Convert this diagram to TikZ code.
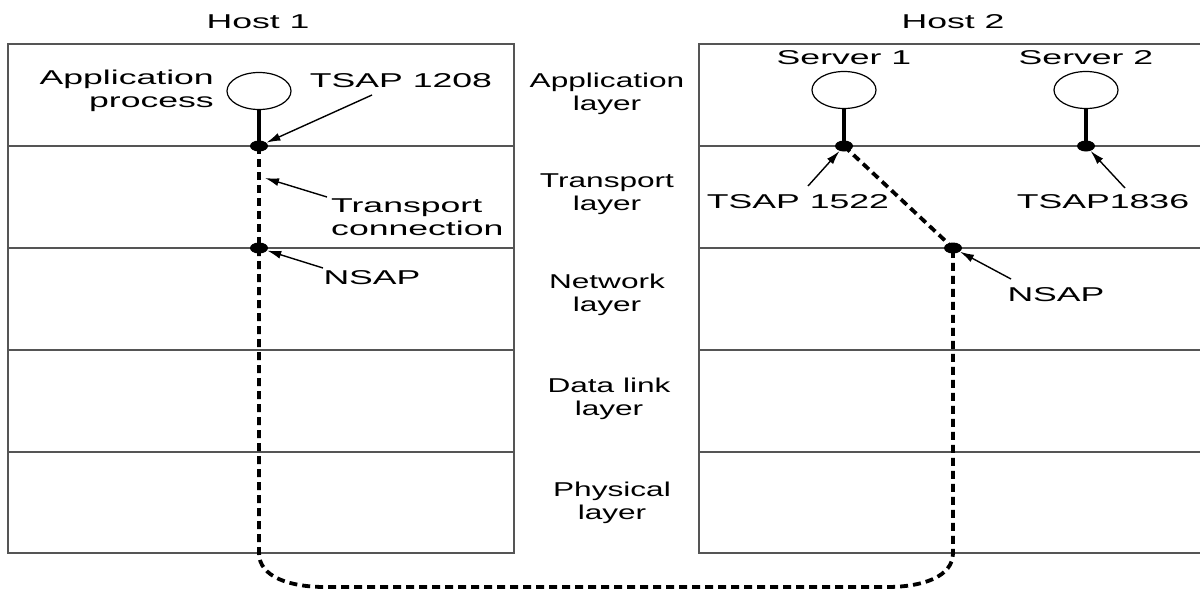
\documentclass[tikz,border=0pt]{standalone}
\usepackage{fontspec}
\setmainfont{Liberation Sans}[FakeStretch=1.78]
\newfontfamily\layerfont{Liberation Sans}[FakeStretch=1.58]
\usetikzlibrary{arrows.meta,shapes.geometric}
\definecolor{boxline}{RGB}{85,85,85}
\tikzset{
  hostbox/.style={draw=boxline,line width=1.6pt},
  lbl/.style={font=\fontsize{20}{23}\selectfont,inner sep=0pt,align=center},
  laylbl/.style={font=\layerfont\fontsize{20}{23}\selectfont,inner sep=0pt,align=center},
  proc/.style={draw,ellipse,line width=1.2pt,minimum width=64pt,minimum height=37pt,inner sep=0pt},
  sap/.style={fill,ellipse,minimum width=18pt,minimum height=11pt,inner sep=0pt},
  stem/.style={line width=3.6pt},
  conn/.style={line width=3.8pt,dash pattern=on 8pt off 5pt},
  ptr/.style={line width=1.4pt,-{Latex[length=14pt,width=8pt]}},
}
\begin{document}
\begin{tikzpicture}[x=1pt,y=-1pt]
\clip (0,0) rectangle (1200,592);
\fill[white] (0,0) rectangle (1200,592);

% host stacks
\draw[hostbox] (8,44) rectangle (514,553);
\draw[hostbox] (699,44) rectangle (1210,553);
\foreach \y in {146,248,350,452} {
  \draw[hostbox] (8,\y) -- (514,\y);
  \draw[hostbox] (699,\y) -- (1210,\y);
}

\node[lbl] (h1) at (258,22) {Host 1};
\node[lbl] (h2) at (953,22) {Host 2};

% layer names between the stacks
\node[laylbl] (lapp) at (607,94) {Application\\layer};
\node[laylbl] (ltra) at (607,194) {Transport\\layer};
\node[laylbl] (lnet) at (607,295) {Network\\layer};
\node[laylbl] (ldl)  at (609,399) {Data link\\layer};
\node[laylbl] (lphy) at (612,503) {Physical\\layer};

% host 1
\node[proc] (ap) at (259,91) {};
\node[sap] (d1) at (259,146) {};
\node[sap] (n1) at (259,248) {};
\draw[stem] (ap.south) -- (d1.center);
\node[lbl,align=right,anchor=east] (aplbl) at (214,91) {Application\\process};
\node[lbl] (t1208) at (401,81) {TSAP 1208};
\node[lbl,align=left,anchor=west] (tclbl) at (331,217) {Transport\\connection};
\node[lbl] (nsap1) at (372,278) {NSAP};

% host 2
\node[lbl] (s1lbl) at (844,58) {Server 1};
\node[lbl] (s2lbl) at (1086,58) {Server 2};
\node[proc] (s1) at (844,90) {};
\node[proc] (s2) at (1086,90) {};
\node[sap] (d2) at (844,146) {};
\node[sap] (d3) at (1086,146) {};
\node[sap] (n2) at (953,248) {};
\draw[stem] (s1.south) -- (d2.center);
\draw[stem] (s2.south) -- (d3.center);
\node[lbl] (t1522) at (798,202) {TSAP 1522};
\node[lbl] (t1836) at (1103,202) {TSAP1836};
\node[lbl] (nsap2) at (1056,295) {NSAP};

% transport connection and network path
\draw[conn] (d1.center) -- (n1.center);
\draw[conn] (d2.center) -- (n2.center);
\draw[conn] (n1.center) -- (259,553) .. controls (259,577) and (290,587) .. (325,587)
  -- (887,587) .. controls (922,587) and (953,577) .. (953,553) -- (n2.center);

% pointers
\coordinate (a1208) at (372,95);
\coordinate (atc) at (327,197);
\coordinate (tcend) at (265,178);
\coordinate (ans1) at (323,268);
\coordinate (a1522) at (808,186);
\coordinate (a1836) at (1125,188);
\coordinate (ans2) at (1011,279);
\draw[ptr] (a1208) -- (d1);
\draw[ptr] (atc) -- (tcend);
\draw[ptr] (ans1) -- (n1);
\draw[ptr] (a1522) -- (d2);
\draw[ptr] (a1836) -- (d3);
\draw[ptr] (ans2) -- (n2);
\end{tikzpicture}
\end{document}
